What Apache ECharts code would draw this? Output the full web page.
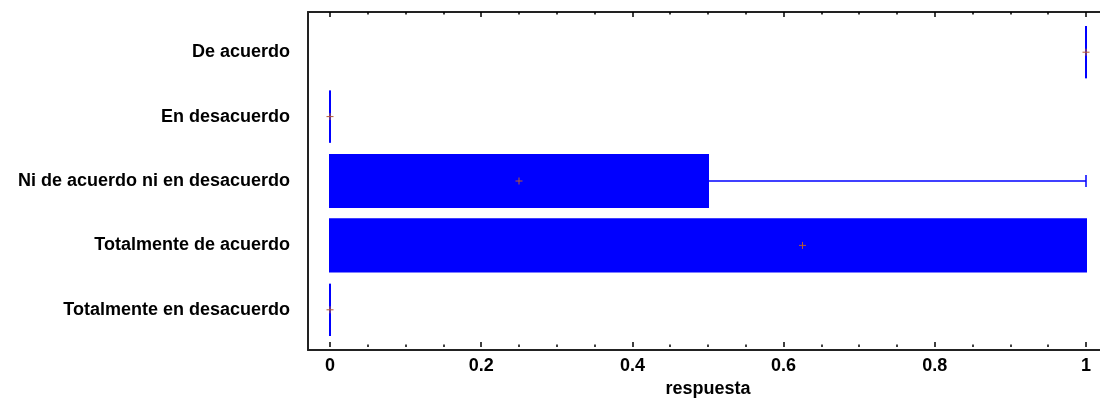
<!DOCTYPE html>
<html>
<head>
<meta charset="utf-8">
<script src="https://cdn.jsdelivr.net/npm/echarts@6/dist/echarts.min.js"></script>
<style>html,body{margin:0;padding:0;background:#fff}#c{width:1100px;height:403px}</style>
</head>
<body>
<div id="c"></div>
<script>
const categories = ['De acuerdo', 'En desacuerdo', 'Ni de acuerdo ni en desacuerdo', 'Totalmente de acuerdo', 'Totalmente en desacuerdo'];
const minVals = [1, 0, 0, 0, 0];
const q1Vals = [1, 0, 0, 0, 0];
const medianVals = [1, 0, 0, 1, 0];
const q3Vals = [1, 0, 0.5, 1, 0];
const maxVals = [1, 0, 1, 1, 0];
const meanVals = [1, 0, 0.25, 0.625, 0];
const xTickLabels = ['0', '0.2', '0.4', '0.6', '0.8', '1'];
const axisTitle = 'respuesta';

const FONT = 'Liberation Sans, Arial, sans-serif';
const BLUE = '#0000ff';
const MEAN_COLOR = '#b85a30';

const data = categories.map((c, i) => [i, minVals[i], q1Vals[i], medianVals[i], q3Vals[i], maxVals[i], meanVals[i]]);

function renderItem(params, api) {
  const idx = api.value(0);
  const band = api.size([0, 1])[1];
  const boxH = band * 0.81;
  const capH = 12;
  const pMin = api.coord([api.value(1), idx]);
  const pQ1 = api.coord([api.value(2), idx]);
  const pMed = api.coord([api.value(3), idx]);
  const pQ3 = api.coord([api.value(4), idx]);
  const pMax = api.coord([api.value(5), idx]);
  const pMean = api.coord([api.value(6), idx]);
  const cy = pQ1[1];
  const children = [];
  if (pQ3[0] !== pMax[0]) {
    children.push({type: 'line', shape: {x1: pQ3[0], y1: cy, x2: pMax[0], y2: cy}, style: {stroke: BLUE, lineWidth: 1.5}});
    children.push({type: 'line', shape: {x1: pMax[0], y1: cy - capH / 2, x2: pMax[0], y2: cy + capH / 2}, style: {stroke: BLUE, lineWidth: 1.5}});
  }
  if (pMin[0] !== pQ1[0]) {
    children.push({type: 'line', shape: {x1: pMin[0], y1: cy, x2: pQ1[0], y2: cy}, style: {stroke: BLUE, lineWidth: 1.5}});
    children.push({type: 'line', shape: {x1: pMin[0], y1: cy - capH / 2, x2: pMin[0], y2: cy + capH / 2}, style: {stroke: BLUE, lineWidth: 1.5}});
  }
  children.push({type: 'rect', shape: {x: pQ1[0], y: cy - boxH / 2, width: pQ3[0] - pQ1[0], height: boxH}, style: {fill: BLUE, stroke: BLUE, lineWidth: 2}});
  children.push({type: 'line', shape: {x1: pMed[0], y1: cy - boxH / 2, x2: pMed[0], y2: cy + boxH / 2}, style: {stroke: BLUE, lineWidth: 1}});
  const m = 3.5;
  children.push({type: 'line', shape: {x1: pMean[0] - m, y1: pMean[1], x2: pMean[0] + m, y2: pMean[1]}, style: {stroke: MEAN_COLOR, lineWidth: 1}});
  children.push({type: 'line', shape: {x1: pMean[0], y1: pMean[1] - m, x2: pMean[0], y2: pMean[1] + m}, style: {stroke: MEAN_COLOR, lineWidth: 1}});
  return {type: 'group', children: children};
}

const chart = echarts.init(document.getElementById('c'), null, {renderer: 'canvas'});
chart.setOption({
  animation: false,
  backgroundColor: '#fff',
  grid: [
    {left: 330, right: 14, top: 12, bottom: 53},
    {left: 330, right: 14, top: 20, bottom: 61},
    {left: 308, right: 0, top: 12, bottom: 53}
  ],
  xAxis: [
    {
      gridIndex: 0, type: 'value', min: 0, max: 1, interval: 0.2, position: 'bottom',
      axisLine: {show: false},
      axisTick: {show: true, inside: true, length: 5, lineStyle: {color: '#000', width: 1.5}},
      minorTick: {show: true, splitNumber: 4, length: 2.5, lineStyle: {color: '#000', width: 1.5}},
      splitLine: {show: false}, minorSplitLine: {show: false},
      axisLabel: {margin: 10, color: '#000', fontFamily: FONT, fontWeight: 'bold', fontSize: 18,
        formatter: (v) => { const i = Math.round(v / 0.2); return xTickLabels[i] !== undefined ? xTickLabels[i] : ''; }},
      name: axisTitle, nameLocation: 'middle', nameGap: 33,
      nameTextStyle: {color: '#000', fontFamily: FONT, fontWeight: 'bold', fontSize: 18}
    },
    {
      gridIndex: 0, type: 'value', min: 0, max: 1, interval: 0.2, position: 'top',
      axisLine: {show: false},
      axisTick: {show: true, inside: true, length: 5, lineStyle: {color: '#000', width: 1.5}},
      minorTick: {show: true, splitNumber: 4, length: 2.5, lineStyle: {color: '#000', width: 1.5}},
      splitLine: {show: false}, axisLabel: {show: false}
    },
    {gridIndex: 1, type: 'value', min: 0, max: 1, show: false},
    {
      gridIndex: 2, type: 'value', min: 0, max: 1, position: 'bottom',
      axisLine: {show: true, lineStyle: {color: '#222', width: 2}},
      axisTick: {show: false}, axisLabel: {show: false}, splitLine: {show: false}
    },
    {
      gridIndex: 2, type: 'value', min: 0, max: 1, position: 'top',
      axisLine: {show: true, lineStyle: {color: '#222', width: 2}},
      axisTick: {show: false}, axisLabel: {show: false}, splitLine: {show: false}
    }
  ],
  yAxis: [
    {gridIndex: 0, type: 'value', show: false},
    {
      gridIndex: 1, type: 'category', data: categories, inverse: true,
      axisLine: {show: false}, axisTick: {show: false}, splitLine: {show: false},
      axisLabel: {margin: 40, color: '#000', fontFamily: FONT, fontWeight: 'bold', fontSize: 18}
    },
    {
      gridIndex: 2, type: 'value', position: 'left',
      axisLine: {show: true, lineStyle: {color: '#222', width: 2}},
      axisTick: {show: false}, axisLabel: {show: false}, splitLine: {show: false}
    }
  ],
  series: [{
    type: 'custom',
    xAxisIndex: 2, yAxisIndex: 1,
    renderItem: renderItem,
    encode: {x: [1, 2, 3, 4, 5, 6], y: 0},
    data: data,
    clip: false
  }]
});
</script>
</body>
</html>
